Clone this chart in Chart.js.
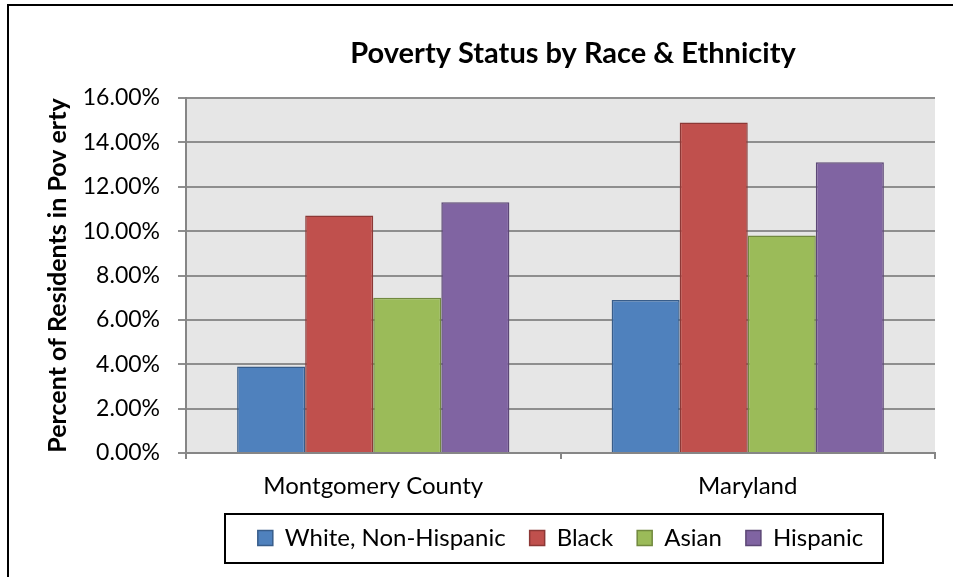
<!DOCTYPE html>
<html>
<head>
<meta charset="utf-8">
<script src="https://cdn.jsdelivr.net/npm/chart.js@4/dist/chart.umd.min.js"></script>
<style>
html,body{margin:0;padding:0;background:#fff;}
#wrap{width:953px;height:577px;position:relative;}
</style>
</head>
<body>
<div id="wrap"><canvas id="c" width="953" height="577"></canvas></div>
<script>
const chartTitle = 'Poverty Status by Race & Ethnicity';
const yAxisTitle = 'Percent of Residents in Pov erty';
const categories = ['Montgomery County', 'Maryland'];
const seriesNames = ['White, Non-Hispanic', 'Black', 'Asian', 'Hispanic'];
const whiteNonHispanic = [0.039, 0.069];
const black = [0.107, 0.149];
const asian = [0.070, 0.098];
const hispanic = [0.113, 0.131];
const yTickLabels = ['0.00%', '2.00%', '4.00%', '6.00%', '8.00%', '10.00%', '12.00%', '14.00%', '16.00%'];

const fills = ['#4F81BD', '#C0504D', '#9BBB59', '#8064A2'];
const borders = ['#385D8A', '#8C3836', '#71893F', '#5C4776'];
const seriesValues = [whiteNonHispanic, black, asian, hispanic];
const FONT = 'Lato, Carlito, Calibri, sans-serif';

const framePlugin = {
  id: 'frame',
  beforeDraw(chart) {
    const {ctx, chartArea: a} = chart;
    ctx.save();
    ctx.fillStyle = '#fff';
    ctx.fillRect(0, 0, chart.width, chart.height);
    ctx.fillStyle = '#E6E6E6';
    ctx.fillRect(a.left, a.top, a.right - a.left, a.bottom - a.top);
    ctx.strokeStyle = '#000';
    ctx.lineWidth = 2;
    ctx.beginPath();
    ctx.moveTo(8, chart.height);
    ctx.lineTo(8, 5);
    ctx.lineTo(chart.width, 5);
    ctx.stroke();
    ctx.restore();
  },
  afterDraw(chart) {
    const {ctx} = chart;
    ctx.save();
    ctx.fillStyle = '#000';
    ctx.font = 'bold 29px ' + FONT;
    ctx.textAlign = 'center';
    ctx.textBaseline = 'middle';
    ctx.fillText(chartTitle, 573, 54);
    // legend border
    const lg = chart.legend;
    if (lg && lg.legendHitBoxes && lg.legendHitBoxes.length) {
      const hb = lg.legendHitBoxes;
      const l = Math.min(...hb.map(h => h.left));
      const r = Math.max(...hb.map(h => h.left + h.width));
      const cy = hb[0].top + hb[0].height / 2;
      ctx.strokeStyle = '#000';
      ctx.lineWidth = 2;
      ctx.strokeRect(Math.round(l - 33), Math.round(cy - 24.5), Math.round(r - l + 53), 49);
    }
    ctx.restore();
  }
};

new Chart(document.getElementById('c'), {
  type: 'bar',
  data: {
    labels: categories,
    datasets: seriesNames.map((name, i) => ({
      label: name,
      data: seriesValues[i],
      backgroundColor: fills[i],
      borderColor: borders[i],
      borderWidth: 1.5,
      categoryPercentage: 0.727,
      barPercentage: 1.0
    }))
  },
  options: {
    responsive: false,
    animation: false,
    devicePixelRatio: 1,
    layout: {padding: {left: 24, right: 18, top: 98, bottom: 17}},
    plugins: {
      title: {display: false},
      tooltip: {enabled: false},
      legend: {
        display: true,
        position: 'bottom',
        fullSize: false,
        labels: {
          color: '#000',
          font: {family: FONT, size: 24},
          boxWidth: 15,
          boxHeight: 15,
          padding: 24
        }
      }
    },
    scales: {
      x: {
        afterFit(scale) { scale.height = 49; },
        grid: {display: true, drawOnChartArea: false, drawTicks: true, tickLength: 6, color: '#868686', lineWidth: 2, offset: true},
        border: {display: true, color: '#868686', width: 2},
        ticks: {color: '#000', font: {family: FONT, size: 24}, padding: 13, maxRotation: 0}
      },
      y: {
        min: 0,
        max: 0.16,
        afterFit(scale) { scale.width = 162; },
        grid: {display: true, color: '#8E8E8E', lineWidth: 2, tickLength: 8},
        border: {display: true, color: '#868686', width: 2},
        ticks: {
          stepSize: 0.02,
          color: '#000',
          font: {family: FONT, size: 23},
          padding: 18,
          callback: (v, i) => yTickLabels[i]
        },
        title: {
          display: true,
          text: yAxisTitle,
          color: '#000',
          font: {family: FONT, size: 25, weight: 'bold'},
          padding: {top: 19, bottom: 4}
        }
      }
    }
  },
  plugins: [framePlugin]
});
</script>
</body>
</html>
